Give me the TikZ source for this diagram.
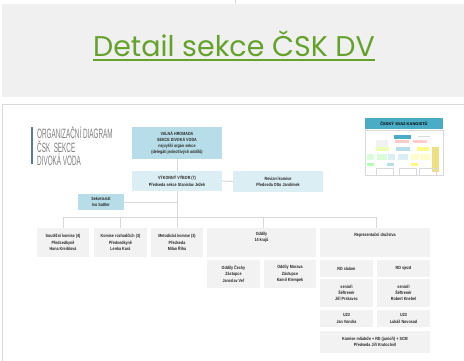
\documentclass[tikz,border=0pt]{standalone}
\usepackage{fontspec}
\setmainfont{Liberation Sans}
\newfontfamily\titlefont{Poppins}
\newfontfamily\headfont[FakeStretch=0.47]{Liberation Sans}
\newfontfamily\boxfont[FakeStretch=0.82]{Liberation Sans}
\usetikzlibrary{positioning}
\definecolor{slidegray}{HTML}{F0F0F0}
\definecolor{titlegreen}{HTML}{64A22C}
\definecolor{vhblue}{HTML}{B7DEE8}
\definecolor{vvblue}{HTML}{DAEEF3}
\definecolor{boxgray}{HTML}{F2F2F2}
\definecolor{linegray}{HTML}{D9D9D9}
\definecolor{headgray}{HTML}{7F7F7F}
\definecolor{barblue}{HTML}{5A7A94}
\definecolor{thumbblue}{HTML}{4BACC6}
\definecolor{boxtext}{HTML}{262626}
\tikzset{
  orgbox/.style={inner sep=0pt, align=center, text=boxtext,
    font=\boxfont\bfseries\fontsize{4.5}{6.2}\selectfont},
  bluebox/.style={orgbox, fill=vhblue},
  lightbox/.style={orgbox, fill=vvblue},
  graybox/.style={orgbox, fill=boxgray},
  boxlabel/.style={orgbox, fill=none},
  conn/.style={draw=linegray, line width=1pt}
}
\begin{document}
\begin{tikzpicture}[x=1pt,y=-1pt]
  \useasboundingbox (0,0) rectangle (464,361);
  % upper slide
  \fill[white] (0,0) rectangle (464,361);
  \fill[slidegray] (2,4) rectangle (464,97);
  \draw[linegray, line width=0.6pt] (235,0) -- (235,4);
  \node[inner sep=0pt, anchor=base, text=titlegreen,
    font=\titlefont\fontsize{28.5}{30}\selectfont] (title) at (234,57) {Detail sekce ČSK DV};
  \draw[titlegreen, line width=1.2pt]
    ([yshift=-3pt]title.base west) -- ([yshift=-3pt]title.base east);
  % lower slide frame
  \draw[linegray, line width=1.5pt] (464,104.5) -- (2.5,104.5) -- (2.5,361);
  % heading
  \draw[barblue, line width=1.2pt] (32,127) -- (32,164);
  \node[anchor=north west, inner sep=0pt, align=left, text=headgray,
    font=\headfont\fontsize{13.5}{13.5}\selectfont] (head) at (37,127)
    {ORGANIZAČNÍ DIAGRAM\\ČSK\ \ SEKCE\\DIVOKÁ VODA};
  % org chart boxes
  \node[bluebox, minimum width=90pt, minimum height=32pt] (vh) at (177,143)
    {VALNÁ HROMADA\\SEKCE DIVOKÁ VODA\\nejvyšší orgán sekce\\(delegáti jednotlivých oddílů)};
  \node[lightbox, minimum width=90pt, minimum height=20pt] (vv) at (177,181)
    {VÝKONNÝ VÝBOR (7)\\Předseda sekce Stanislav Ježek};
  \node[lightbox, minimum width=90pt, minimum height=21pt] (rk) at (278,181.5)
    {Revizní komise\\Předseda Otto Jarolímek};
  \node[bluebox, minimum width=46pt, minimum height=16pt] (sekr) at (101,202)
    {Sekretariát\\Ivo Sattler};
  \node[graybox, minimum width=52pt, minimum height=29pt] (k1) at (63,242.5)
    {Soutěžní komise (4)\\Předsedkyně\\Hana Kreiblová};
  \node[graybox, minimum width=53pt, minimum height=29pt] (k2) at (120.5,242.5)
    {Komise rozhodčích (3)\\Předsedkyně\\Lenka Kurá};
  \node[graybox, minimum width=52pt, minimum height=29pt] (k3) at (177,242.5)
    {Metodická komise (3)\\Předseda\\Milan Říha};
  \node[graybox, minimum width=109pt, minimum height=29pt] (odd) at (261.5,242.5) {};
  \node[boxlabel, below=4pt of odd.north] (oddtxt) {Oddíly\\14 krajů};
  \node[graybox, minimum width=110pt, minimum height=29pt] (rep) at (375,242.5) {};
  \node[boxlabel, below=5pt of rep.north] (reptxt) {Reprezentační družstva};
  \node[graybox, minimum width=53pt, minimum height=28pt] (cechy) at (233.5,274)
    {Oddíly Čechy\\Zástupce\\Jaroslav Veľ};
  \node[graybox, minimum width=52pt, minimum height=28pt] (morava) at (290,274)
    {Oddíly Morava\\Zástupce\\Kamil Klempek};
  \node[graybox, minimum width=53pt, minimum height=17pt] (rds) at (346.5,268.5) {RD slalom};
  \node[graybox, minimum width=53pt, minimum height=17pt] (rdj) at (403.5,268.5) {RD sjezd};
  \node[graybox, minimum width=53pt, minimum height=28pt] (sens) at (346.5,293)
    {senioři\\Šéftrenér\\Jiří Prskavec};
  \node[graybox, minimum width=53pt, minimum height=28pt] (senj) at (403.5,293)
    {senioři\\Šéftrenér\\Robert Knebel};
  \node[graybox, minimum width=53pt, minimum height=17pt] (us) at (346.5,318.5)
    {U23\\Jan Vondra};
  \node[graybox, minimum width=53pt, minimum height=17pt] (uj) at (403.5,318.5)
    {U23\\Lukáš Novosad};
  \node[graybox, minimum width=110pt, minimum height=22pt] (mlad) at (375,342)
    {Komise mládeže + RD (junioři) + SCM\\Předseda Jiří Kratochvíl};
  % connectors
  \coordinate (bus) at (177,217);
  \begin{scope}[conn]
    \draw (vh) -- (vv);
    \draw (vv) -- (rk);
    \draw (vv) -- (k3);
    \draw (sekr.east) -- (sekr.east -| vv);
    \draw (k1.north) |- (bus);
    \draw (k2.north) |- (bus);
    \draw (bus) -| ([xshift=1.5pt]odd.north);
    \draw (bus) -| ([xshift=1pt]rep.north);
  \end{scope}
  % thumbnail of the whole federation chart
  \fill[thumbblue] (365,118) rectangle (443,129);
  \node[inner sep=0pt, font=\bfseries\fontsize{4}{4}\selectfont] (thumbhead) at (404,123.5)
    {ČESKÝ SVAZ KANOISTŮ};
  \draw[linegray, line width=1pt, fill=white] (365,131) rectangle (443,176);
  \fill[boxgray] (376,140) rectangle (388,148);
  \fill[thumbblue] (394,135) rectangle (411,139);
  \fill[red!20] (395,140) rectangle (409,143);
  \fill[red!20] (413,140) rectangle (427,143);
  \fill[gray!30] (418,136) rectangle (430,137);
  \fill[green!25!yellow!30] (376,147) rectangle (389,151);
  \fill[vhblue] (396,147) rectangle (410,151);
  \fill[yellow!45] (417,147) rectangle (429,151);
  \fill[brown!45!yellow!55] (432,147) rectangle (439,172);
  \fill[green!15] (367,154) rectangle (374,160);
  \fill[green!15] (377,154) rectangle (387,160);
  \fill[vvblue] (388,154) rectangle (395,160);
  \fill[vvblue] (398,154) rectangle (408,160);
  \fill[yellow!20] (411,154) rectangle (419,160);
  \fill[yellow!20] (420,154) rectangle (430,160);
  \fill[green!30] (367,163) rectangle (374,166);
  \fill[vhblue] (387,163) rectangle (394,166);
  \fill[yellow!50] (411,163) rectangle (418,166);
  \draw[linegray, line width=0.4pt] (376,168) rectangle (393,175);
  \draw[linegray, line width=0.4pt] (399,168) rectangle (416,175);
  \draw[linegray, line width=0.4pt] (419,168) rectangle (436,175);
\end{tikzpicture}
\end{document}
